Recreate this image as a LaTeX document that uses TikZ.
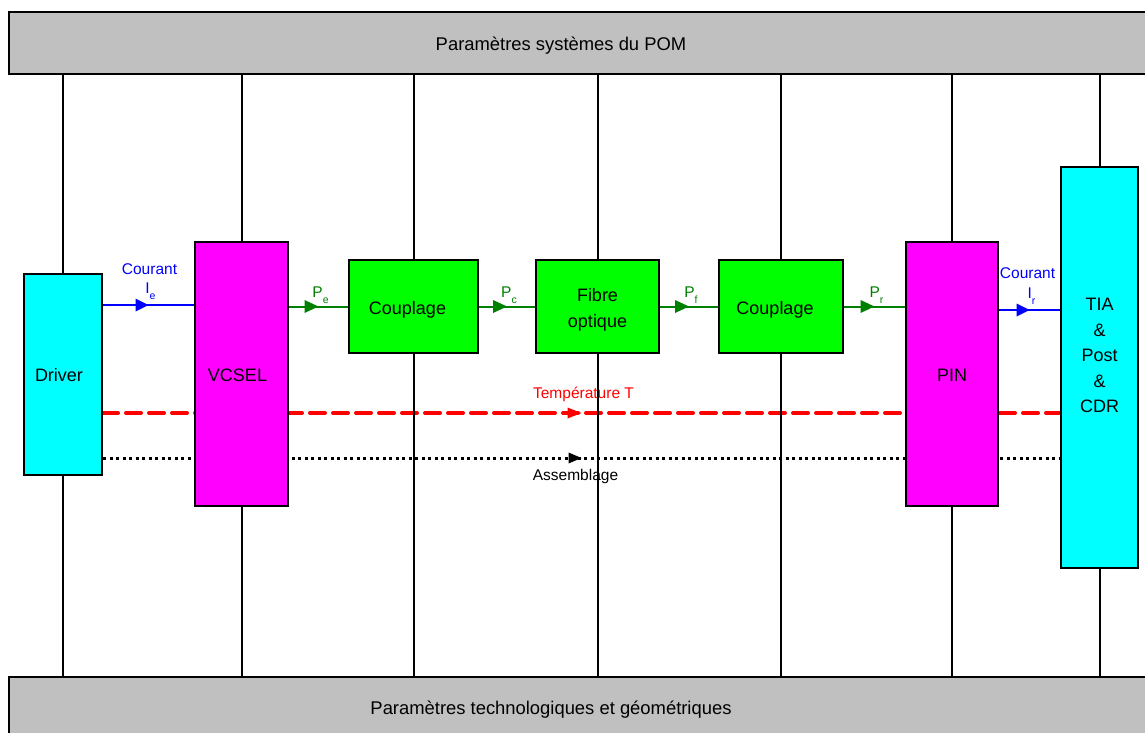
\documentclass[tikz,border=0pt]{standalone}
\usepackage{fontspec}
\setmainfont{Liberation Sans}
\usetikzlibrary{arrows.meta,decorations.markings}
\pgfdeclarelayer{bg}
\pgfdeclarelayer{mid}
\pgfsetlayers{bg,mid,main}
\definecolor{boxcyan}{RGB}{0,255,255}
\definecolor{boxmag}{RGB}{255,0,255}
\definecolor{boxgreen}{RGB}{0,255,0}
\definecolor{bargray}{RGB}{192,192,192}
\definecolor{sigblue}{RGB}{0,0,255}
\definecolor{siggreen}{RGB}{0,128,0}
\definecolor{sigred}{RGB}{255,0,0}
\newcommand{\sbs}[1]{\raisebox{-6pt}{\fontsize{10.5}{11}\selectfont #1}}
\newcommand{\shiftv}[2]{\raisebox{#1}[\height][\depth]{#2}}
\tikzset{
  blk/.style={draw=black, line width=2pt, inner sep=0pt, align=center,
    font=\fontsize{18}{25.5}\selectfont},
  bar/.style={draw=black, line width=2pt, fill=bargray, inner sep=0pt},
  barlbl/.style={font=\fontsize{18.4}{22}\selectfont, inner sep=0pt},
  vline/.style={draw=black, line width=2pt},
  lbl/.style={font=\fontsize{15.5}{18}\selectfont, inner sep=0pt, anchor=base, midway},
  midarrow/.style 2 args={postaction={decorate}, decoration={markings,
    mark=at position 0.5 with {\arrow{Triangle[length=#1,width=#2,line width=0pt]}}}},
  bluesig/.style={draw=sigblue, line width=2pt, midarrow={13pt}{13pt}},
  greensig/.style={draw=siggreen, line width=2pt, midarrow={14pt}{13pt}},
  tempsig/.style={draw=sigred, line width=4pt, dash pattern=on 15pt off 8pt,
    line cap=round, midarrow={14pt}{11pt}},
  asmsig/.style={draw=black, line width=3pt, dash pattern=on 3pt off 3.5pt,
    midarrow={13pt}{11pt}}
}
\begin{document}
\begin{tikzpicture}[x=1pt,y=-1pt]
\useasboundingbox (0,0) rectangle (1145,733);
\clip (0,0) rectangle (1145,733);
% bars
\node[bar, minimum width=1161pt, minimum height=62pt] (top) at (589.5,43) {};
\node[bar, minimum width=1161pt, minimum height=73pt] (bot) at (589.5,713.5) {};
\node[barlbl] (toplbl) at (561,45.5) {Paramètres systèmes du POM};
\node[barlbl] (botlbl) at (551,709.5) {Paramètres technologiques et géométriques};
% blocks
\node[blk, fill=boxcyan, minimum width=78pt, minimum height=201pt] (drv) at (63,374.5) {\shiftv{-1pt}{Driver}\hspace*{8pt}};
\node[blk, fill=boxmag, minimum width=93pt, minimum height=264pt] (vcsel) at (241.5,374) {\shiftv{-1pt}{VCSEL}\hspace*{8pt}};
\node[blk, fill=boxgreen, minimum width=129pt, minimum height=93pt] (cpa) at (413.5,306.5) {\shiftv{-3pt}{Couplage}\hspace*{12pt}};
\node[blk, fill=boxgreen, minimum width=123pt, minimum height=93pt] (fib) at (597.5,306.5) {\shiftv{-3pt}{\begin{tabular}{@{}c@{}}Fibre\\optique\end{tabular}}};
\node[blk, fill=boxgreen, minimum width=124pt, minimum height=93pt] (cpb) at (781,306.5) {\shiftv{-3pt}{Couplage}\hspace*{12pt}};
\node[blk, fill=boxmag, minimum width=92pt, minimum height=264pt] (pin) at (952,374) {\shiftv{-1pt}{PIN}};
\node[blk, fill=boxcyan, minimum width=77pt, minimum height=401pt] (tia) at (1099.5,367.5) {\shiftv{11pt}{\begin{tabular}{@{}c@{}}TIA\\\&\\Post\\\&\\CDR\end{tabular}}};
% helper levels
\coordinate (iey) at (0,305);
\coordinate (iry) at (0,310);
\coordinate (ty) at (0,413);
\coordinate (ay) at (0,458);
% vertical links
\begin{pgfonlayer}{mid}
\foreach \n in {drv,vcsel,cpa,fib,cpb,pin,tia}
  \draw[vline] (\n.center |- top.south) -- (\n.center |- bot.north);
\end{pgfonlayer}
% shared signals
\begin{pgfonlayer}{bg}
\draw[tempsig] (drv.east |- ty) -- (tia.west |- ty)
  node[lbl, text=sigred, yshift=15pt, xshift=2pt] {Température T};
\draw[asmsig] (drv.east |- ay) -- (tia.west |- ay)
  node[lbl, text=black, yshift=-22pt, xshift=-6pt] {Assemblage};
\end{pgfonlayer}
% chain signals
\draw[bluesig] (drv.east |- iey) -- (vcsel.west |- iey)
  node[lbl, text=sigblue, yshift=12pt, xshift=2pt] {I\sbs{e}}
  node[lbl, text=sigblue, yshift=31pt, xshift=1pt] {Courant};
\draw[greensig] (vcsel.east |- cpa.west) -- (cpa.west)
  node[lbl, text=siggreen, yshift=9pt, xshift=2pt] {P\sbs{e}};
\draw[greensig] (cpa.east) -- (fib.west)
  node[lbl, text=siggreen, yshift=9pt, xshift=2pt] {P\sbs{c}};
\draw[greensig] (fib.east) -- (cpb.west)
  node[lbl, text=siggreen, yshift=9pt, xshift=2pt] {P\sbs{f}};
\draw[greensig] (cpb.east) -- (pin.west |- cpb.east)
  node[lbl, text=siggreen, yshift=9pt, xshift=2pt] {P\sbs{r}};
\draw[bluesig] (pin.east |- iry) -- (tia.west |- iry)
  node[lbl, text=sigblue, yshift=12pt, xshift=2pt] {I\sbs{r}}
  node[lbl, text=sigblue, yshift=32pt, xshift=-2pt] {Courant};
\end{tikzpicture}
\end{document}
